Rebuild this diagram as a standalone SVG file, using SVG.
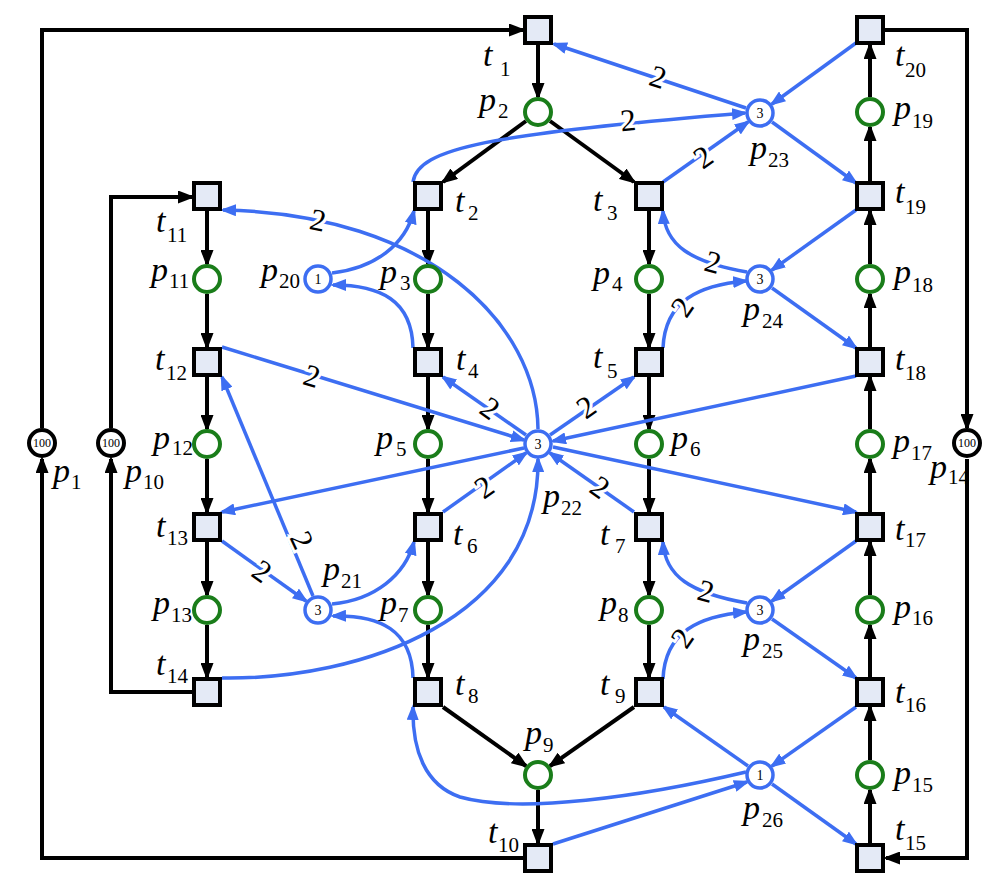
<svg xmlns="http://www.w3.org/2000/svg" width="1003" height="888" viewBox="0 0 1003 888">
<style>
.tr{fill:#e4eaf6;stroke:#000;stroke-width:4}
.pl{fill:#fff;stroke:#1a7d1a;stroke-width:4}
.rp{fill:#fff;stroke:#3d6ef2;stroke-width:3.5}
.bp{fill:#fff;stroke:#000;stroke-width:4}
.k{fill:none;stroke:#000;stroke-width:4;marker-end:url(#ak)}
.b{fill:none;stroke:#3d6ef2;stroke-width:3.5;marker-end:url(#ab)}
.lb{font-family:"Liberation Serif",serif;font-size:34px;font-style:italic;fill:#000}
.sb{font-size:21px;font-style:normal}
.w{font-family:"Liberation Serif",serif;font-size:31px;text-anchor:middle;dominant-baseline:central;stroke:#fff;stroke-width:6;paint-order:stroke;fill:#000}
.tk{font-family:"Liberation Serif",serif;font-size:14px;text-anchor:middle;dominant-baseline:central;fill:#000}
.tk1{font-family:"Liberation Serif",serif;font-size:12px;text-anchor:middle;dominant-baseline:central;fill:#000}
</style>
<defs>
<marker id="ak" viewBox="0 0 17 13" refX="14" refY="6.5" markerWidth="17" markerHeight="13" orient="auto" markerUnits="userSpaceOnUse"><path d="M0,0 L17,6.5 L0,13 z" fill="#000"/></marker>
<marker id="ab" viewBox="0 0 16 12" refX="13" refY="6" markerWidth="16" markerHeight="12" orient="auto" markerUnits="userSpaceOnUse"><path d="M0,0 L16,6 L0,12 z" fill="#3d6ef2"/></marker>
</defs>
<rect width="1003" height="888" fill="#fff"/>
<g id="connectors">
<path class="k" d="M524,858 H42 V459"/>
<path class="k" d="M42,428 V30 H523"/>
<path class="k" d="M193,692 H111 V459"/>
<path class="k" d="M111,428 V197 H192"/>
<path class="k" d="M885,30 H967 V428"/>
<path class="k" d="M967,459 V858 H886"/>
<path class="k" d="M538,45 V97"/>
<path class="k" d="M526,121 L443,182"/>
<path class="k" d="M550,121 L634,182"/>
<path class="k" d="M443,707 L526,766"/>
<path class="k" d="M634,707 L550,766"/>
<path class="k" d="M538,790 V843"/>
<path class="k" d="M207,211 V264"/><path class="k" d="M207,294 V347"/><path class="k" d="M207,377 V429"/><path class="k" d="M207,459 V512"/><path class="k" d="M207,542 V595"/><path class="k" d="M207,625 V677"/>
<path class="k" d="M428,211 V264"/><path class="k" d="M428,294 V347"/><path class="k" d="M428,377 V429"/><path class="k" d="M428,459 V512"/><path class="k" d="M428,542 V595"/><path class="k" d="M428,625 V677"/>
<path class="k" d="M649,211 V264"/><path class="k" d="M649,294 V347"/><path class="k" d="M649,377 V429"/><path class="k" d="M649,459 V512"/><path class="k" d="M649,542 V595"/><path class="k" d="M649,625 V677"/>
<path class="k" d="M870,843 V790"/><path class="k" d="M870,760 V707"/><path class="k" d="M870,677 V625"/><path class="k" d="M870,595 V542"/><path class="k" d="M870,512 V459"/><path class="k" d="M870,429 V377"/><path class="k" d="M870,347 V294"/><path class="k" d="M870,264 V211"/><path class="k" d="M870,181 V127"/><path class="k" d="M870,97 V45"/>
<path class="b" d="M746,108 L554,44"/>
<path class="b" d="M856,43 L772,104"/>
<path class="b" d="M772,122 L856,183"/>
<path class="b" d="M413,182 C418,148 490,134 745,113"/>
<path class="b" d="M663,182 L748,122"/>
<path class="b" d="M747,272 C690,262 665,245 663,211"/>
<path class="b" d="M856,210 L772,270"/>
<path class="b" d="M772,288 L856,348"/>
<path class="b" d="M663,348 C665,300 700,285 746,281"/>
<path class="b" d="M856,376 L553,441"/>
<path class="b" d="M553,447 L856,512"/>
<path class="b" d="M856,541 L772,601"/>
<path class="b" d="M772,619 L856,678"/>
<path class="b" d="M747,603 C690,593 665,576 663,542"/>
<path class="b" d="M663,679 C665,631 700,616 746,612"/>
<path class="b" d="M856,707 L772,766"/>
<path class="b" d="M772,784 L856,844"/>
<path class="b" d="M748,766 L664,707"/>
<path class="b" d="M553,844 L747,782"/>
<path class="b" d="M746,772 C640,797 520,814 460,797 C425,785 412,750 413,707"/>
<path class="b" d="M526,435 L443,377"/>
<path class="b" d="M550,435 L634,377"/>
<path class="b" d="M443,512 L526,453"/>
<path class="b" d="M634,512 L550,453"/>
<path class="b" d="M222,347 L524,440"/>
<path class="b" d="M524,448 L222,512"/>
<path class="b" d="M538,429 C537,325 430,214 223,210"/>
<path class="b" d="M222,678 C360,680 540,620 538,459"/>
<path class="b" d="M313,596 L222,377"/>
<path class="b" d="M222,541 L306,601"/>
<path class="b" d="M332,604 C375,600 405,575 414,542"/>
<path class="b" d="M413,678 C412,630 380,615 333,616"/>
<path class="b" d="M332,273 C375,268 405,245 414,211"/>
<path class="b" d="M413,348 C412,300 380,285 333,285"/>
<text class="w" x="658" y="77" transform="rotate(18 658 77)">2</text>
<text class="w" x="628" y="120" transform="rotate(-5 628 120)">2</text>
<text class="w" x="703" y="157" transform="rotate(-35 703 157)">2</text>
<text class="w" x="713" y="262" transform="rotate(15 713 262)">2</text>
<text class="w" x="682" y="307" transform="rotate(-55 682 307)">2</text>
<text class="w" x="706" y="591" transform="rotate(15 706 591)">2</text>
<text class="w" x="682" y="638" transform="rotate(-55 682 638)">2</text>
<text class="w" x="312" y="376" transform="rotate(17 312 376)">2</text>
<text class="w" x="318" y="220" transform="rotate(12 318 220)">2</text>
<text class="w" x="490" y="408" transform="rotate(35 490 408)">2</text>
<text class="w" x="586" y="407" transform="rotate(-35 586 407)">2</text>
<text class="w" x="484" y="487" transform="rotate(-35 484 487)">2</text>
<text class="w" x="600" y="487" transform="rotate(35 600 487)">2</text>
<text class="w" x="302" y="540" transform="rotate(65 302 540)">2</text>
<text class="w" x="262" y="571" transform="rotate(35 262 571)">2</text>
</g>
<g id="t1"><rect class="tr" x="525" y="17" width="26" height="26"/><text class="lb" x="483" y="66">t<tspan class="sb" x="500" y="76">1</tspan></text></g>
<g id="t20"><rect class="tr" x="857" y="17" width="26" height="26"/><text class="lb" x="895" y="66">t<tspan class="sb" x="905" y="77">20</tspan></text></g>
<g id="t2"><rect class="tr" x="415" y="183" width="26" height="26"/><text class="lb" x="455" y="212">t<tspan class="sb" x="468" y="220">2</tspan></text></g>
<g id="t3"><rect class="tr" x="636" y="183" width="26" height="26"/><text class="lb" x="593" y="211">t<tspan class="sb" x="607" y="220">3</tspan></text></g>
<g id="t19"><rect class="tr" x="857" y="183" width="26" height="26"/><text class="lb" x="895" y="203">t<tspan class="sb" x="905" y="214">19</tspan></text></g>
<g id="t11"><rect class="tr" x="194" y="183" width="26" height="26"/><text class="lb" x="156" y="232">t<tspan class="sb" x="167" y="242">11</tspan></text></g>
<g id="t12"><rect class="tr" x="194" y="349" width="26" height="26"/><text class="lb" x="155" y="370">t<tspan class="sb" x="166" y="380">12</tspan></text></g>
<g id="t4"><rect class="tr" x="415" y="349" width="26" height="26"/><text class="lb" x="456" y="370">t<tspan class="sb" x="468" y="378">4</tspan></text></g>
<g id="t5"><rect class="tr" x="636" y="349" width="26" height="26"/><text class="lb" x="593" y="368">t<tspan class="sb" x="607" y="378">5</tspan></text></g>
<g id="t18"><rect class="tr" x="857" y="349" width="26" height="26"/><text class="lb" x="895" y="370">t<tspan class="sb" x="905" y="380">18</tspan></text></g>
<g id="t13"><rect class="tr" x="194" y="514" width="26" height="26"/><text class="lb" x="156" y="537">t<tspan class="sb" x="167" y="545">13</tspan></text></g>
<g id="t6"><rect class="tr" x="415" y="514" width="26" height="26"/><text class="lb" x="453" y="545">t<tspan class="sb" x="467" y="553">6</tspan></text></g>
<g id="t7"><rect class="tr" x="636" y="514" width="26" height="26"/><text class="lb" x="600" y="545">t<tspan class="sb" x="615" y="553">7</tspan></text></g>
<g id="t17"><rect class="tr" x="857" y="514" width="26" height="26"/><text class="lb" x="895" y="540">t<tspan class="sb" x="905" y="547">17</tspan></text></g>
<g id="t14"><rect class="tr" x="194" y="679" width="26" height="26"/><text class="lb" x="156" y="675">t<tspan class="sb" x="167" y="683">14</tspan></text></g>
<g id="t8"><rect class="tr" x="415" y="679" width="26" height="26"/><text class="lb" x="455" y="695">t<tspan class="sb" x="468" y="703">8</tspan></text></g>
<g id="t9"><rect class="tr" x="636" y="679" width="26" height="26"/><text class="lb" x="600" y="695">t<tspan class="sb" x="615" y="703">9</tspan></text></g>
<g id="t16"><rect class="tr" x="857" y="679" width="26" height="26"/><text class="lb" x="895" y="703">t<tspan class="sb" x="905" y="712">16</tspan></text></g>
<g id="t10"><rect class="tr" x="525" y="845" width="26" height="26"/><text class="lb" x="488" y="843">t<tspan class="sb" x="498" y="852">10</tspan></text></g>
<g id="t15"><rect class="tr" x="857" y="845" width="26" height="26"/><text class="lb" x="895" y="840">t<tspan class="sb" x="905" y="850">15</tspan></text></g>
<g id="p2"><circle class="pl" cx="538" cy="112" r="13"/><text class="lb" x="479" y="111">p<tspan class="sb" x="498" y="118">2</tspan></text></g>
<g id="p19"><circle class="pl" cx="870" cy="112" r="13"/><text class="lb" x="894" y="119">p<tspan class="sb" x="912" y="128">19</tspan></text></g>
<g id="p11"><circle class="pl" cx="207" cy="279" r="13"/><text class="lb" x="151" y="281">p<tspan class="sb" x="169" y="288">11</tspan></text></g>
<g id="p3"><circle class="pl" cx="428" cy="279" r="13"/><text class="lb" x="380" y="283">p<tspan class="sb" x="400" y="290">3</tspan></text></g>
<g id="p4"><circle class="pl" cx="649" cy="279" r="13"/><text class="lb" x="593" y="284">p<tspan class="sb" x="612" y="291">4</tspan></text></g>
<g id="p18"><circle class="pl" cx="870" cy="279" r="13"/><text class="lb" x="894" y="283">p<tspan class="sb" x="912" y="292">18</tspan></text></g>
<g id="p12"><circle class="pl" cx="207" cy="444" r="13"/><text class="lb" x="153" y="449">p<tspan class="sb" x="172" y="455">12</tspan></text></g>
<g id="p5"><circle class="pl" cx="428" cy="444" r="13"/><text class="lb" x="376" y="449">p<tspan class="sb" x="396" y="456">5</tspan></text></g>
<g id="p6"><circle class="pl" cx="649" cy="444" r="13"/><text class="lb" x="671" y="449">p<tspan class="sb" x="690" y="456">6</tspan></text></g>
<g id="p17"><circle class="pl" cx="870" cy="444" r="13"/><text class="lb" x="893" y="452">p<tspan class="sb" x="911" y="460">17</tspan></text></g>
<g id="p13"><circle class="pl" cx="207" cy="610" r="13"/><text class="lb" x="153" y="614">p<tspan class="sb" x="171" y="622">13</tspan></text></g>
<g id="p7"><circle class="pl" cx="428" cy="610" r="13"/><text class="lb" x="380" y="614">p<tspan class="sb" x="398" y="622">7</tspan></text></g>
<g id="p8"><circle class="pl" cx="649" cy="610" r="13"/><text class="lb" x="600" y="614">p<tspan class="sb" x="618" y="622">8</tspan></text></g>
<g id="p16"><circle class="pl" cx="870" cy="610" r="13"/><text class="lb" x="894" y="618">p<tspan class="sb" x="912" y="625">16</tspan></text></g>
<g id="p9"><circle class="pl" cx="538" cy="775" r="13"/><text class="lb" x="525" y="744">p<tspan class="sb" x="543" y="752">9</tspan></text></g>
<g id="p15"><circle class="pl" cx="870" cy="775" r="13"/><text class="lb" x="894" y="784">p<tspan class="sb" x="912" y="792">15</tspan></text></g>
<g id="p1"><circle class="bp" cx="42" cy="443" r="13"/><text class="tk1" x="42" y="443">100</text><text class="lb" x="53" y="482">p<tspan class="sb" x="71" y="489">1</tspan></text></g>
<g id="p10"><circle class="bp" cx="111" cy="443" r="13"/><text class="tk1" x="111" y="443">100</text><text class="lb" x="125" y="482">p<tspan class="sb" x="143" y="489">10</tspan></text></g>
<g id="p14"><circle class="bp" cx="967" cy="443" r="13"/><text class="tk1" x="967" y="443">100</text><text class="lb" x="930" y="478">p<tspan class="sb" x="948" y="484">14</tspan></text></g>
<g id="p20"><circle class="rp" cx="318" cy="279" r="13"/><text class="tk" x="318" y="279">1</text><text class="lb" x="261" y="281">p<tspan class="sb" x="279" y="288">20</tspan></text></g>
<g id="p21"><circle class="rp" cx="318" cy="610" r="13"/><text class="tk" x="318" y="610">3</text><text class="lb" x="323" y="580">p<tspan class="sb" x="341" y="588">21</tspan></text></g>
<g id="p22"><circle class="rp" cx="538" cy="444" r="13"/><text class="tk" x="538" y="444">3</text><text class="lb" x="543" y="507">p<tspan class="sb" x="561" y="515">22</tspan></text></g>
<g id="p23"><circle class="rp" cx="760" cy="113" r="13"/><text class="tk" x="760" y="113">3</text><text class="lb" x="750" y="159">p<tspan class="sb" x="768" y="167">23</tspan></text></g>
<g id="p24"><circle class="rp" cx="760" cy="279" r="13"/><text class="tk" x="760" y="279">3</text><text class="lb" x="743" y="320">p<tspan class="sb" x="762" y="328">24</tspan></text></g>
<g id="p25"><circle class="rp" cx="760" cy="610" r="13"/><text class="tk" x="760" y="610">3</text><text class="lb" x="743" y="650">p<tspan class="sb" x="762" y="658">25</tspan></text></g>
<g id="p26"><circle class="rp" cx="760" cy="775" r="13"/><text class="tk" x="760" y="775">1</text><text class="lb" x="743" y="819">p<tspan class="sb" x="762" y="827">26</tspan></text></g>
</svg>
